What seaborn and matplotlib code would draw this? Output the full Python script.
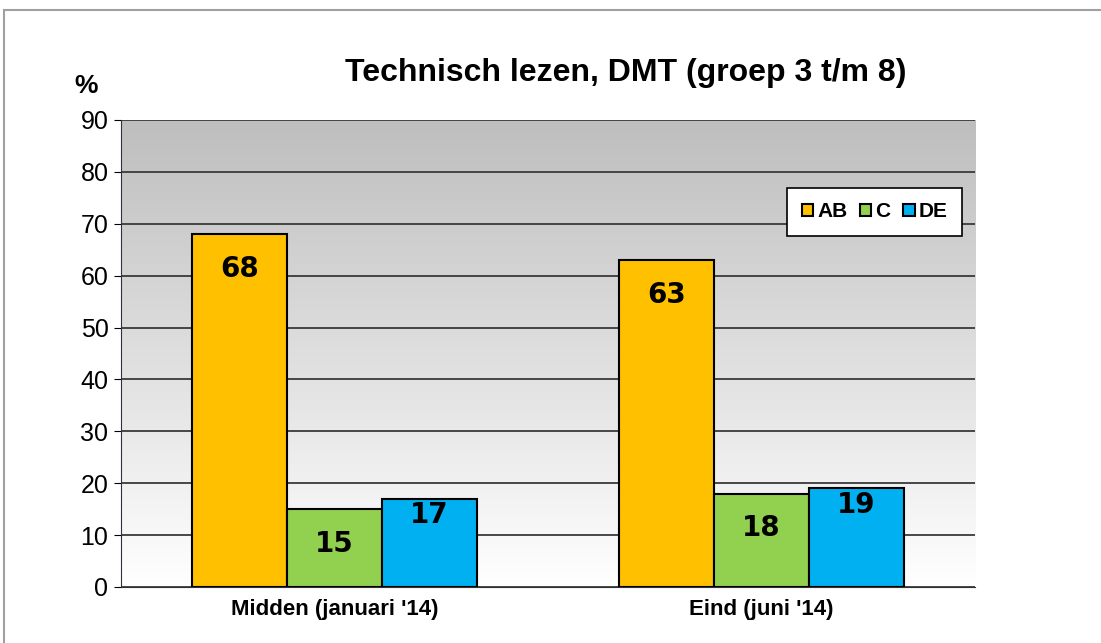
import numpy as np
import pandas as pd
import seaborn as sns
import matplotlib.pyplot as plt
from matplotlib.colors import LinearSegmentedColormap
from matplotlib.patches import Rectangle

categories = ["Midden (januari '14)", "Eind (juni '14)"]
groups = ["AB", "C", "DE"]
ab_values = [68, 63]
c_values = [15, 18]
de_values = [17, 19]
colors = ["#FFC000", "#92D050", "#00B0F0"]

df = pd.DataFrame({
    "periode": categories * 3,
    "groep": [g for g in groups for _ in categories],
    "pct": ab_values + c_values + de_values,
})

sns.set_style("white")
plt.rcParams['font.family'] = ['Liberation Sans', 'DejaVu Sans']
plt.rcParams['text.color'] = 'black'
plt.rcParams['xtick.color'] = 'black'
plt.rcParams['ytick.color'] = 'black'

fig = plt.figure(figsize=(11.01, 6.43), dpi=100)
ax = fig.add_axes([0.1099, 0.0871, 0.7757, 0.7263])

# achtergrond: grijs verloop naar wit
cmap = LinearSegmentedColormap.from_list("bg", ["#FFFFFF", "#BEBEBE"])
grad = np.linspace(0, 1, 256).reshape(-1, 1)
ax.imshow(grad, cmap=cmap, origin="lower", aspect="auto",
          extent=[-0.5, 1.5, 0, 90], zorder=0)

sns.barplot(data=df, x="periode", y="pct", hue="groep", palette=colors,
            saturation=1, width=0.667, edgecolor="black", linewidth=1.5,
            ax=ax, zorder=3)

ax.set_xlim(-0.5, 1.5)
ax.set_ylim(0, 90)
ax.set_yticks(range(0, 91, 10))
ax.yaxis.grid(True, color="#3a3a3a", linewidth=1.3, zorder=1)
ax.set_axisbelow(True)
for s in ["top", "right"]:
    ax.spines[s].set_visible(False)
ax.spines["left"].set_color("#303040")
ax.spines["bottom"].set_color("#303030")
ax.tick_params(axis="y", labelsize=18, length=5, direction="out", left=True, pad=4)
ax.tick_params(axis="x", labelsize=16, length=0, pad=9)
for t in ax.get_xticklabels():
    t.set_fontweight("bold")
ax.set_xlabel("")
ax.set_ylabel("")

# waarden in de staven
offsets = {"AB": -25, "C": -25, "DE": -12}
for cont, g in zip(ax.containers, groups):
    for bar in cont:
        h = bar.get_height()
        ax.annotate(f"{int(h)}", (bar.get_x() + bar.get_width() / 2, h),
                    xytext=(0, offsets[g]), textcoords="offset points",
                    ha="center", va="center", fontsize=20, fontweight="bold",
                    family="DejaVu Sans", color="black", zorder=5)

leg = ax.legend(loc="upper right", bbox_to_anchor=(0.985, 0.855), ncol=3,
                frameon=True, fancybox=False, edgecolor="black", framealpha=1,
                handlelength=0.55, handleheight=0.55, handletextpad=0.2,
                columnspacing=0.6, borderpad=0.7, borderaxespad=0,
                prop={"weight": "bold", "size": 15})
leg.get_frame().set_linewidth(1.2)
leg.set_zorder(6)

fig.text(0.568, 0.886, "Technisch lezen, DMT (groep 3 t/m 8)", ha="center",
         va="center", fontsize=23, fontweight="bold")
fig.text(0.078, 0.866, "%", ha="center", va="center", fontsize=19,
         fontweight="bold")

fig.patches.append(Rectangle((0.004, -0.1), 1.1, 1.085, transform=fig.transFigure,
                             fill=False, edgecolor="#A0A0A0", linewidth=1.5))

fig.savefig("out.png", dpi=100)
